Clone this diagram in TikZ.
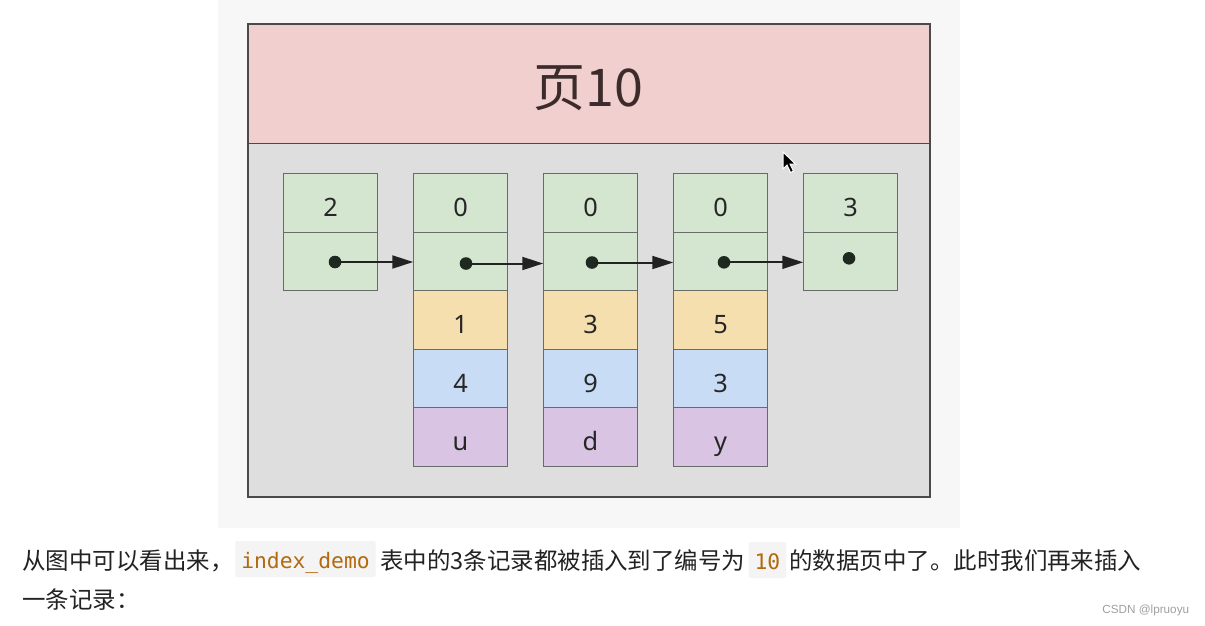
\documentclass[tikz,border=0pt]{standalone}
\usepackage{fontspec}
\setmainfont{Noto Sans}
\newfontfamily\cjkf{Noto Sans CJK SC}
\newfontfamily\monof{DejaVu Sans Mono}
\newfontfamily\wmf{Liberation Sans}
\usetikzlibrary{arrows.meta}
\definecolor{panelbg}{HTML}{F7F7F7}
\definecolor{pinkbg}{HTML}{F2CFCF}
\definecolor{greybg}{HTML}{DEDEDE}
\definecolor{pageborder}{HTML}{4A4A4A}
\definecolor{cgreen}{HTML}{D4E6D0}
\definecolor{cyellow}{HTML}{F6DFAE}
\definecolor{cblue}{HTML}{C8DDF5}
\definecolor{cpurple}{HTML}{D9C4E4}
\definecolor{cellborder}{HTML}{666D66}
\definecolor{celltext}{HTML}{262626}
\definecolor{titletext}{HTML}{3B2B2B}
\definecolor{dotcol}{HTML}{1E2A20}
\definecolor{arrowcol}{HTML}{222222}
\definecolor{bodycol}{HTML}{222222}
\definecolor{codecol}{HTML}{B3690E}
\definecolor{codebg}{HTML}{F4F4F4}
\definecolor{wmcol}{HTML}{A0A0A0}
\begin{document}
\begin{tikzpicture}[x=0.75pt,y=-0.75pt,
  cell/.style={draw=cellborder, line width=0.75pt, minimum width=70.875pt, minimum height=43.83pt,
    inner sep=0pt, outer sep=0pt, text height=20.4pt, text depth=0pt,
    font=\fontsize{19pt}{20pt}\selectfont, text=celltext},
  gcell/.style={cell, fill=cgreen},
  ycell/.style={cell, fill=cyellow},
  bcell/.style={cell, fill=cblue},
  pcell/.style={cell, fill=cpurple},
  dot/.style={circle, fill=dotcol, minimum size=9.45pt, inner sep=0pt},
  ptr/.style={-{Triangle[length=15.75pt,width=9.75pt]}, line width=1.5pt, draw=arrowcol},
  bodytext/.style={inner sep=0pt, anchor=base west, text=bodycol, font=\fontsize{17.6pt}{20pt}\cjkf},
  codebox/.style={inner xsep=4.5pt, inner ysep=0pt, anchor=base west, fill=codebg, rounded corners=1.5pt,
    text height=20.25pt, text depth=6.75pt, text=codecol, font=\fontsize{16pt}{18pt}\monof},
]
\useasboundingbox (0,0) rectangle (1205,625);
\fill[white] (0,0) rectangle (1205,625);
\fill[panelbg] (218,0) rectangle (960,528);

% page
\node[draw=pageborder, line width=0.9pt, fill=pinkbg, minimum width=511.5pt, minimum height=89.5pt, inner sep=0pt] (head) at (589,83.65) {};
\node[draw=pageborder, line width=0.9pt, fill=greybg, minimum width=511.5pt, minimum height=265.3pt, inner sep=0pt] (body) at (589,320.15) {};
\node[anchor=base, inner sep=0pt, text=titletext, font=\fontsize{39pt}{40pt}\cjkf] (ttl) at (588,106) {页10};

% column 1
\node[gcell] (c1a) at (330.5,203.2) {2};
\node[gcell] (c1b) at (330.5,261.7) {};
% column 2
\node[gcell] (c2a) at (460.5,203.2) {0};
\node[gcell] (c2b) at (460.5,261.7) {};
\node[ycell] (c2c) at (460.5,320.1) {1};
\node[bcell] (c2d) at (460.5,378.6) {4};
\node[pcell] (c2e) at (460.5,437.0) {u};
% column 3
\node[gcell] (c3a) at (590.5,203.2) {0};
\node[gcell] (c3b) at (590.5,261.7) {};
\node[ycell] (c3c) at (590.5,320.1) {3};
\node[bcell] (c3d) at (590.5,378.6) {9};
\node[pcell] (c3e) at (590.5,437.0) {d};
% column 4
\node[gcell] (c4a) at (720.5,203.2) {0};
\node[gcell] (c4b) at (720.5,261.7) {};
\node[ycell] (c4c) at (720.5,320.1) {5};
\node[bcell] (c4d) at (720.5,378.6) {3};
\node[pcell] (c4e) at (720.5,437.0) {y};
% column 5
\node[gcell] (c5a) at (850.5,203.2) {3};
\node[gcell] (c5b) at (850.5,261.7) {};

% pointers
\node[dot] (d1) at (335,262) {};
\node[dot] (d2) at (466,263.5) {};
\node[dot] (d3) at (592,262.5) {};
\node[dot] (d4) at (724,262.3) {};
\node[dot] (d5) at (849,258.3) {};
\draw[ptr] (d1.center) -- (d1.center -| c2b.west);
\draw[ptr] (d2.center) -- (d2.center -| c3b.west);
\draw[ptr] (d3.center) -- (d3.center -| c4b.west);
\draw[ptr] (d4.center) -- (d4.center -| c5b.west);

% mouse cursor
\filldraw[fill=black, draw=white, line width=0.75pt, line join=miter]
  (783,152) -- ++(0,17) -- ++(4,-4) -- ++(3.5,7.5) -- ++(3,-1.3) -- ++(-3.5,-7.2) -- ++(5.5,0) -- cycle;

% text below
\node[bodytext] (t1) at (22,569) {从图中可以看出来，};
\node[codebox] (k1) at (235,568) {index\_demo};
\node[bodytext] (t2) at (380,569) {表中的3条记录都被插入到了编号为};
\node[codebox, xshift=2pt] (k2) at (t2.base east) {10};
\node[bodytext, xshift=2pt] (t3) at (k2.base east) {的数据页中了。此时我们再来插入};
\node[bodytext] (t4) at (22,608) {一条记录：};
\node[inner sep=0pt, anchor=base west, text=wmcol, font=\fontsize{8.8pt}{10pt}\wmf] (wm) at (1102,613) {CSDN @lpruoyu};
\end{tikzpicture}
\end{document}
